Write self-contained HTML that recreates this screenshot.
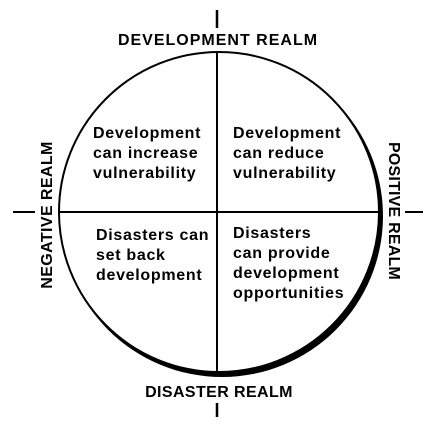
<!DOCTYPE html>
<html><head><meta charset="utf-8"><style>
html,body{margin:0;padding:0;background:#fff;}
svg{display:block;}
text{font-family:"Liberation Sans",Arial,sans-serif;font-weight:bold;fill:#000;}
.q{font-size:16px;letter-spacing:0.7px;}
.r{font-size:16px;}
</style></head><body>
<svg width="442" height="425" viewBox="0 0 442 425" xmlns="http://www.w3.org/2000/svg">
<circle cx="222" cy="216" r="161" fill="#000"/>
<circle cx="219" cy="212" r="160" fill="#fff" stroke="#000" stroke-width="2"/>
<line x1="217" y1="53" x2="217" y2="372" stroke="#000" stroke-width="2"/>
<line x1="58" y1="212" x2="382" y2="212" stroke="#000" stroke-width="2"/>
<line x1="217" y1="10" x2="217" y2="28" stroke="#000" stroke-width="2.5"/>
<line x1="217" y1="403" x2="217" y2="417" stroke="#000" stroke-width="2.5"/>
<line x1="13" y1="212" x2="35" y2="212" stroke="#000" stroke-width="2"/>
<line x1="405" y1="212" x2="423" y2="212" stroke="#000" stroke-width="2"/>
<text class="r" x="218" y="45" text-anchor="middle" letter-spacing="1">DEVELOPMENT REALM</text>
<text class="r" x="219" y="397" text-anchor="middle" letter-spacing="0.4">DISASTER REALM</text>
<text class="r" transform="translate(52,215) rotate(-90)" text-anchor="middle" letter-spacing="0.4">NEGATIVE REALM</text>
<text class="r" transform="translate(389,211) rotate(90)" text-anchor="middle" letter-spacing="0.2">POSITIVE REALM</text>
<text class="q" x="93" y="138">Development</text>
<text class="q" x="93" y="158">can increase</text>
<text class="q" x="93" y="178">vulnerability</text>
<text class="q" x="233" y="138">Development</text>
<text class="q" x="233" y="158">can reduce</text>
<text class="q" x="233" y="178">vulnerability</text>
<text class="q" x="96" y="240">Disasters can</text>
<text class="q" x="96" y="260">set back</text>
<text class="q" x="96" y="280">development</text>
<text class="q" x="233" y="238">Disasters</text>
<text class="q" x="233" y="258">can provide</text>
<text class="q" x="233" y="278">development</text>
<text class="q" x="233" y="298">opportunities</text>
</svg>
</body></html>
